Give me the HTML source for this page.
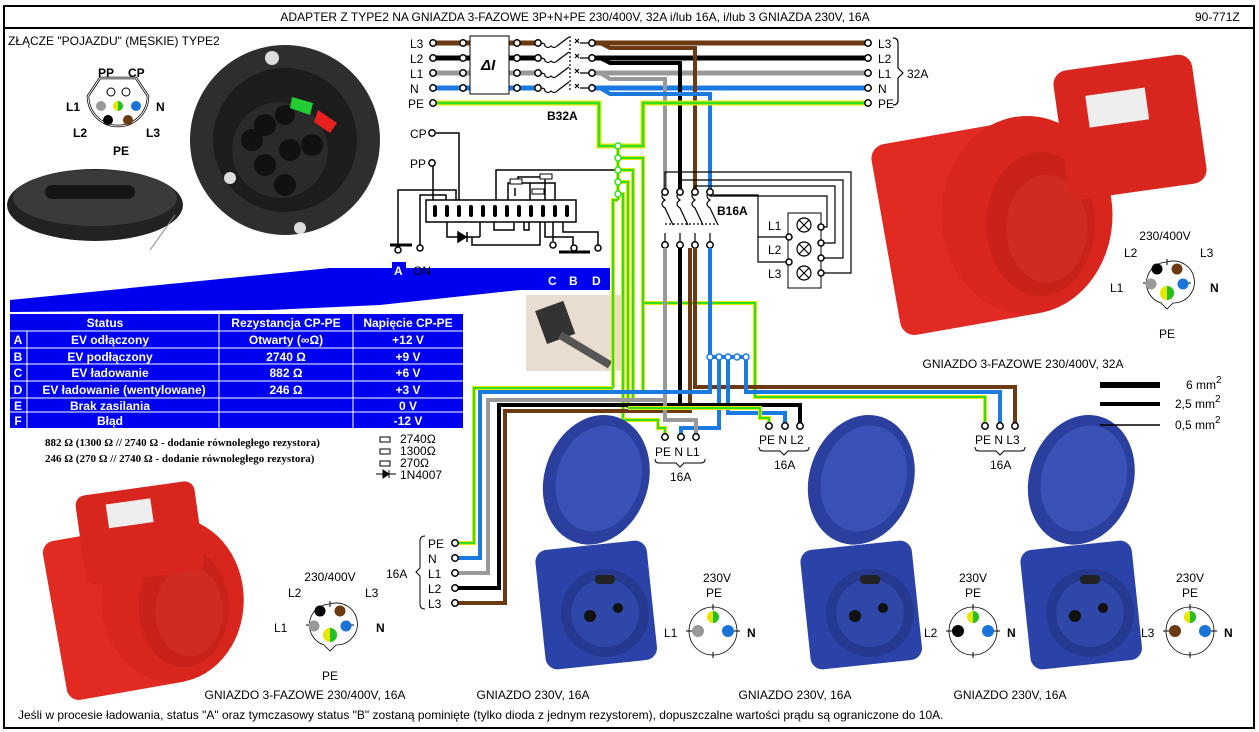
<!DOCTYPE html>
<html><head><meta charset="utf-8"><style>
html,body{margin:0;padding:0;background:#fff}
svg{display:block}
text{font-family:"Liberation Sans",sans-serif;font-size:12px;fill:#000}
.b{font-weight:bold}
.w{fill:#fff;font-weight:bold}
</style></head><body>
<svg width="1259" height="732" viewBox="0 0 1259 732" xmlns="http://www.w3.org/2000/svg">
<defs>
<g id="ph3">
 <path d="M0,-21 A21,21 0 1,1 6,20 L0,26 L-6,20 A21,21 0 0,1 0,-21Z" fill="#fff" stroke="#000" stroke-width="0.8"/>
 <line x1="0" y1="-24" x2="0" y2="-18" stroke="#000"/><line x1="-24" y1="0" x2="-18" y2="0" stroke="#000"/><line x1="24" y1="0" x2="18" y2="0" stroke="#000"/>
 <circle cx="-10" cy="-14" r="5.5" fill="#000"/><circle cx="10" cy="-14" r="5.5" fill="#6b3a12"/>
 <circle cx="-16" cy="1" r="5.5" fill="#999"/><circle cx="16" cy="1" r="5.5" fill="#1a73d8"/>
 <circle cx="0" cy="10" r="7" fill="#e6e600"/><path d="M0,3 A7,7 0 0,1 0,17Z" fill="#22c022"/>
</g>
<g id="ph1">
 <circle r="24" fill="#fff" stroke="#000" stroke-width="0.8"/>
 <line x1="0" y1="-27" x2="0" y2="-21" stroke="#000"/><line x1="0" y1="27" x2="0" y2="21" stroke="#000"/>
 <line x1="-27" y1="0" x2="-21" y2="0" stroke="#000"/><line x1="27" y1="0" x2="21" y2="0" stroke="#000"/>
 <circle cx="0" cy="-14" r="6" fill="#e6e600"/><path d="M0,-20 A6,6 0 0,1 0,-8Z" fill="#22c022"/>
 <circle cx="15" cy="0" r="6" fill="#1a73d8"/>
</g>
<g id="blue">
 <ellipse cx="5" cy="-5" rx="52" ry="66" transform="rotate(18)" fill="#2a3f9e"/>
 <ellipse cx="7" cy="-7" rx="42" ry="54" transform="rotate(18)" fill="#3a52b8"/>
 <rect x="-50" y="62" width="112" height="120" rx="12" fill="#2b43a8" transform="rotate(-6 6 120)"/>
 <circle cx="15" cy="130" r="44" fill="#24398f"/>
 <circle cx="15" cy="130" r="34" fill="#2e47a8"/>
 <circle cx="0" cy="133" r="6" fill="#111"/><circle cx="28" cy="125" r="5" fill="#111"/>
 <rect x="5" y="92" width="20" height="9" rx="4" fill="#222"/>
</g>
<g id="red">
 <rect x="-130" y="-100" width="170" height="215" rx="16" fill="#e02a22" transform="rotate(-10)"/>
 <ellipse cx="30" cy="0" rx="95" ry="110" fill="#d8261e"/>
 <ellipse cx="45" cy="10" rx="60" ry="80" fill="#c8221a"/>
 <ellipse cx="52" cy="15" rx="45" ry="60" fill="#d02b22"/>
</g>
</defs>
<rect x="0" y="0" width="1259" height="732" fill="#fff"/>
<rect x="4" y="6" width="1250" height="722" fill="none" stroke="#000" stroke-width="2"/>
<line x1="4" y1="28" x2="1254" y2="28" stroke="#000" stroke-width="2"/>
<text x="575" y="21" text-anchor="middle">ADAPTER Z TYPE2 NA GNIAZDA 3-FAZOWE 3P+N+PE 230/400V, 32A i/lub 16A, i/lub 3 GNIAZDA 230V, 16A</text>
<text x="1195" y="21">90-771Z</text>
<text x="8" y="45">ZŁĄCZE "POJAZDU" (MĘSKIE) TYPE2</text>

<path d="M100,78 L136,78 L148,96 A27,27 0 1,1 88,96Z" fill="none" stroke="#000" stroke-width="2.5"/>
<path d="M100,78 L136,78 L148,96 A27,27 0 1,1 88,96Z" fill="none" stroke="#fff" stroke-width="1"/>
<circle cx="111" cy="92" r="4" fill="#fff" stroke="#000"/><circle cx="126" cy="92" r="4" fill="#fff" stroke="#000"/>
<circle cx="101" cy="106" r="5" fill="#999"/><circle cx="118" cy="106" r="5" fill="#e6e600"/><path d="M118,101 A5,5 0 0,1 118,111Z" fill="#22c022"/><circle cx="136" cy="106" r="5" fill="#1a73d8"/>
<circle cx="108" cy="120" r="5" fill="#000"/><circle cx="128" cy="120" r="5" fill="#6b3a12"/>
<text x="98" y="77" class="b">PP</text><text x="128" y="77" class="b">CP</text>
<text x="66" y="111" class="b">L1</text><text x="156" y="111" class="b">N</text>
<text x="73" y="137" class="b">L2</text><text x="146" y="137" class="b">L3</text><text x="113" y="155" class="b">PE</text>

<circle cx="285" cy="140" r="95" fill="#2e2e2e"/>
<circle cx="285" cy="140" r="72" fill="#1c1c1c"/>
<circle cx="280" cy="150" r="48" fill="#2a2a2a"/>
<circle cx="252" cy="140" r="11" fill="#111"/><circle cx="265" cy="125" r="11" fill="#111"/><circle cx="285" cy="115" r="10" fill="#111"/>
<circle cx="290" cy="150" r="11" fill="#111"/><circle cx="312" cy="145" r="11" fill="#111"/><circle cx="265" cy="165" r="11" fill="#111"/><circle cx="285" cy="185" r="11" fill="#111"/>
<path d="M292,97 L313,103 L310,115 L290,108Z" fill="#22cc33"/><path d="M318,110 L337,123 L330,133 L314,122Z" fill="#e82020"/>
<circle cx="272" cy="58" r="7" fill="#ddd"/><circle cx="230" cy="178" r="6" fill="#ddd"/><circle cx="300" cy="228" r="6" fill="#ddd"/>
<ellipse cx="95" cy="205" rx="88" ry="36" fill="#222"/>
<ellipse cx="95" cy="198" rx="82" ry="28" fill="#3a3a3a"/>
<rect x="45" y="185" width="90" height="14" rx="7" fill="#151515"/>
<line x1="175" y1="215" x2="150" y2="250" stroke="#888"/>

<g stroke-width="5" fill="none">
<line x1="433" y1="43" x2="470" y2="43" stroke="#6b3a12"/><line x1="509" y1="43" x2="538" y2="43" stroke="#6b3a12"/>
<line x1="433" y1="58" x2="470" y2="58" stroke="#000"/><line x1="509" y1="58" x2="538" y2="58" stroke="#000"/>
<line x1="433" y1="73" x2="470" y2="73" stroke="#999"/><line x1="509" y1="73" x2="538" y2="73" stroke="#999"/>
<line x1="433" y1="88" x2="470" y2="88" stroke="#1a7ae0"/><line x1="509" y1="88" x2="538" y2="88" stroke="#1a7ae0"/>
<path d="M592,43 H868" stroke="#6b3a12"/><path d="M592,58 H868" stroke="#000"/><path d="M592,73 H868" stroke="#999"/><path d="M592,88 H868" stroke="#1a7ae0"/>
<path d="M600,43 L610,48 H695 V192" stroke="#6b3a12" stroke-width="4"/>
<path d="M600,58 L610,63 H680 V192" stroke="#000" stroke-width="4"/>
<path d="M600,73 L610,79 H665 V192" stroke="#999" stroke-width="4"/>
<path d="M600,88 L610,94 H710 V192" stroke="#1a7ae0" stroke-width="4"/>
<path d="M433,103 H599 V146 H643 V103 H868" stroke="#e6e600" stroke-width="5"/>
<path d="M433,103 H599 V146 H643 V103 H868" stroke="#33dd22" stroke-width="2.5"/>
</g>
<rect x="470" y="36" width="39" height="58" fill="#fff" stroke="#000"/>
<text x="481" y="70" style="font-size:15px;font-style:italic" class="b">Δ<tspan font-style="italic">I</tspan></text>
<g fill="#fff" stroke="#000" stroke-width="1.5">
<circle cx="433" cy="43" r="3.2"/><circle cx="433" cy="58" r="3.2"/><circle cx="433" cy="73" r="3.2"/><circle cx="433" cy="88" r="3.2"/><circle cx="433" cy="103" r="3.2"/>
<circle cx="463" cy="43" r="3.2"/><circle cx="463" cy="58" r="3.2"/><circle cx="463" cy="73" r="3.2"/><circle cx="463" cy="88" r="3.2"/>
<circle cx="517" cy="43" r="3.2"/><circle cx="517" cy="58" r="3.2"/><circle cx="517" cy="73" r="3.2"/><circle cx="517" cy="88" r="3.2"/>
<circle cx="538" cy="43" r="3.2"/><circle cx="538" cy="58" r="3.2"/><circle cx="538" cy="73" r="3.2"/><circle cx="538" cy="88" r="3.2"/>
<circle cx="592" cy="43" r="3.2"/><circle cx="592" cy="58" r="3.2"/><circle cx="592" cy="73" r="3.2"/><circle cx="592" cy="88" r="3.2"/>
<circle cx="868" cy="43" r="3.2"/><circle cx="868" cy="58" r="3.2"/><circle cx="868" cy="73" r="3.2"/><circle cx="868" cy="88" r="3.2"/><circle cx="868" cy="103" r="3.2"/>
</g>
<g stroke="#000" fill="none" stroke-width="1.2">
<path d="M541,43 q4,0 4,3 q3,3 6,0 q3,3 6,0 l12,-9 M575,43 l4,-4 m-4,0 l4,4 M580,43 H589"/>
<path d="M541,58 q4,0 4,3 q3,3 6,0 q3,3 6,0 l12,-9 M575,58 l4,-4 m-4,0 l4,4 M580,58 H589"/>
<path d="M541,73 q4,0 4,3 q3,3 6,0 q3,3 6,0 l12,-9 M575,73 l4,-4 m-4,0 l4,4 M580,73 H589"/>
<path d="M541,88 q4,0 4,3 q3,3 6,0 q3,3 6,0 l12,-9 M575,88 l4,-4 m-4,0 l4,4 M580,88 H589"/>
<line x1="570" y1="36" x2="570" y2="92" stroke-dasharray="2,2"/>
<path d="M893,38 q5,0 5,5 v25 l5,5 l-5,5 v22 q0,5 -5,5"/>
</g>
<text x="410" y="48">L3</text><text x="410" y="63">L2</text><text x="410" y="78">L1</text><text x="410" y="93">N</text><text x="408" y="108">PE</text>
<text x="878" y="48">L3</text><text x="878" y="63">L2</text><text x="878" y="78">L1</text><text x="878" y="93">N</text><text x="878" y="108">PE</text>
<text x="907" y="78">32A</text><text x="547" y="120" class="b">B32A</text>

<g stroke="#000" fill="none" stroke-width="1.5">
<path d="M436,133 H459 V200"/><path d="M433,166 V200"/>
<path d="M398,245 V190 H456 V200"/><path d="M420,245 V195 H446 V200"/>
<path d="M496,200 V170 H618"/>
<rect x="426" y="200" width="150" height="22" fill="#fff"/>
<path d="M447,222 V237 H473 M480,237 H480 V222 M480,237 H470"/>
<path d="M472,237 V245 H540 V222"/><path d="M494,222 V230 H514 V222 M524,222 V230 H529 V222"/>
<path d="M545,222 V237 H573 V245"/><path d="M553,222 V241 M563,222 V232 H598 V245"/>
<path d="M390,245 H412" stroke-width="3"/><path d="M559,252 H590" stroke-width="3"/>
<path d="M458,232 l8,5 l-8,5Z" fill="#000"/><line x1="467" y1="232" x2="467" y2="242"/>
<path d="M508,200 V183 H530 V200 M518,183 V177 H545 V200 M530,183 H555 V200 M515,196 V188"/>
</g>
<g fill="#fff" stroke="#000" stroke-width="1.5">
<circle cx="432" cy="133" r="3.2"/><circle cx="432" cy="163" r="3.2"/>
<circle cx="398" cy="250" r="3"/><circle cx="420" cy="248" r="3"/>
<circle cx="553" cy="245" r="3"/><circle cx="574" cy="248" r="3"/><circle cx="598" cy="248" r="3"/>
</g>
<text x="410" y="138">CP</text><text x="410" y="168">PP</text>
<g fill="#000">
<rect x="433" y="205" width="4" height="12" rx="2"/><rect x="445" y="205" width="4" height="12" rx="2"/><rect x="457" y="205" width="4" height="12" rx="2"/><rect x="469" y="205" width="4" height="12" rx="2"/><rect x="481" y="205" width="4" height="12" rx="2"/><rect x="493" y="205" width="4" height="12" rx="2"/><rect x="505" y="205" width="4" height="12" rx="2"/><rect x="517" y="205" width="4" height="12" rx="2"/><rect x="529" y="205" width="4" height="12" rx="2"/><rect x="541" y="205" width="4" height="12" rx="2"/><rect x="553" y="205" width="4" height="12" rx="2"/><rect x="565" y="205" width="4" height="12" rx="2"/>
</g>
<g fill="#fff" stroke="#000"><rect x="510" y="179" width="12" height="5"/><rect x="540" y="174" width="12" height="5"/><rect x="532" y="189" width="12" height="5"/></g>

<path d="M10,312 L10,300 L330,268 L610,268 L610,290 L520,290 L380,305 L270,310 Z" fill="#0000f0"/>
<rect x="392" y="262" width="14" height="16" fill="#0000f0"/>
<text x="394" y="275" class="w">A</text><text x="413" y="275">ON</text>
<text x="548" y="285" class="w">C</text><text x="569" y="285" class="w">B</text><text x="592" y="285" class="w">D</text>

<rect x="526" y="295" width="96" height="76" fill="#e8ddd0"/>
<rect x="540" y="305" width="30" height="35" fill="#333" transform="rotate(-20 555 322)"/>
<path d="M560,335 L610,365" stroke="#555" stroke-width="8"/>

<rect x="10" y="314" width="453" height="114" fill="#0000f0"/>
<g stroke="#fff" stroke-width="1">
<line x1="10" y1="331" x2="463" y2="331"/><line x1="10" y1="348" x2="463" y2="348"/><line x1="10" y1="364" x2="463" y2="364"/><line x1="10" y1="381" x2="463" y2="381"/><line x1="10" y1="398" x2="463" y2="398"/><line x1="10" y1="412" x2="463" y2="412"/>
<line x1="27" y1="331" x2="27" y2="428"/><line x1="219" y1="314" x2="219" y2="428"/><line x1="353" y1="314" x2="353" y2="428"/>
</g>
<g text-anchor="middle">
<text x="105" y="327" class="w">Status</text><text x="286" y="327" class="w">Rezystancja CP-PE</text><text x="408" y="327" class="w">Napięcie CP-PE</text>
<text x="18" y="344" class="w">A</text><text x="110" y="344" class="w">EV odłączony</text><text x="286" y="344" class="w">Otwarty (∞Ω)</text><text x="408" y="344" class="w">+12 V</text>
<text x="18" y="361" class="w">B</text><text x="110" y="361" class="w">EV podłączony</text><text x="286" y="361" class="w">2740 Ω</text><text x="408" y="361" class="w">+9 V</text>
<text x="18" y="377" class="w">C</text><text x="110" y="377" class="w">EV ładowanie</text><text x="286" y="377" class="w">882 Ω</text><text x="408" y="377" class="w">+6 V</text>
<text x="18" y="394" class="w">D</text><text x="124" y="394" class="w">EV ładowanie (wentylowane)</text><text x="286" y="394" class="w">246 Ω</text><text x="408" y="394" class="w">+3 V</text>
<text x="18" y="410" class="w">E</text><text x="110" y="410" class="w">Brak zasilania</text><text x="408" y="410" class="w">0 V</text>
<text x="18" y="425" class="w">F</text><text x="110" y="425" class="w">Błąd</text><text x="408" y="425" class="w">-12 V</text>
</g>
<text x="45" y="446" style="font-family:'Liberation Serif',serif;font-size:11px;font-weight:bold">882 Ω (1300 Ω // 2740 Ω - dodanie równoległego rezystora)</text>
<text x="45" y="462" style="font-family:'Liberation Serif',serif;font-size:11px;font-weight:bold">246 Ω (270 Ω // 2740 Ω - dodanie równoległego rezystora)</text>
<g stroke="#000" fill="#fff"><rect x="380" y="437" width="10" height="5"/><rect x="380" y="449" width="10" height="5"/><rect x="380" y="461" width="10" height="5"/></g>
<path d="M376,474 H396 M383,470 l6,4 l-6,4Z M389,470 v8" stroke="#000" fill="#000"/>
<text x="400" y="443">2740Ω</text><text x="400" y="455">1300Ω</text><text x="400" y="467">270Ω</text><text x="400" y="479">1N4007</text>

<g fill="none">
<path d="M618,146 V200 M618,158 H643 V392 M618,170 H633 V400 M618,182 H628 V408 M618,194 H623 V420 M618,200 H613 V388 M643,303 H755 V397 H985 V426" stroke="#e6e600" stroke-width="4"/>
<path d="M618,146 V200 M618,158 H643 V392 M618,170 H633 V400 M618,182 H628 V408 M618,194 H623 V420 M618,200 H613 V388 M643,303 H755 V397 H985 V426" stroke="#33dd22" stroke-width="2"/>
</g>
<g fill="#fff" stroke="#33dd22" stroke-width="1.5"><circle cx="618" cy="146" r="3"/><circle cx="618" cy="158" r="3"/><circle cx="618" cy="170" r="3"/><circle cx="618" cy="182" r="3"/><circle cx="618" cy="194" r="3"/></g>

<g stroke="#000" fill="none" stroke-width="1.2">
<path d="M665,192 q-6,4 0,8 q-6,4 0,8 l8,17 M665,233 V242"/>
<path d="M680,192 q-6,4 0,8 q-6,4 0,8 l8,17 M680,233 V242"/>
<path d="M695,192 q-6,4 0,8 q-6,4 0,8 l8,17 M695,233 V242"/>
<path d="M710,192 q-6,4 0,8 q-6,4 0,8 l8,17 M710,233 V242"/>
<line x1="665" y1="224" x2="715" y2="224" stroke-dasharray="2,2"/>
<path d="M665,192 V172 H851 V273 H821"/><path d="M680,192 V180 H843 V258 H821"/><path d="M695,192 V186 H835 V243 H821"/><path d="M710,192 V196 H827 V227 H821"/>
<path d="M713,195 H758 V262 H789 M758,237 H789"/>
<rect x="788" y="213" width="33" height="75" stroke-width="1"/>
</g>
<g fill="#fff" stroke="#000" stroke-width="1.5">
<circle cx="665" cy="192" r="3.2"/><circle cx="680" cy="192" r="3.2"/><circle cx="695" cy="192" r="3.2"/><circle cx="710" cy="192" r="3.2"/>
<circle cx="665" cy="245" r="3.2"/><circle cx="680" cy="245" r="3.2"/><circle cx="695" cy="245" r="3.2"/><circle cx="710" cy="245" r="3.2"/>
<circle cx="789" cy="237" r="3"/><circle cx="789" cy="262" r="3"/><circle cx="821" cy="227" r="3"/><circle cx="821" cy="243" r="3"/><circle cx="821" cy="258" r="3"/><circle cx="821" cy="273" r="3"/>
</g>
<g stroke="#000" fill="#fff" stroke-width="1.2">
<circle cx="804" cy="225" r="7"/><path d="M799,220 l10,10 m0,-10 l-10,10"/>
<circle cx="804" cy="249" r="7"/><path d="M799,244 l10,10 m0,-10 l-10,10"/>
<circle cx="804" cy="273" r="7"/><path d="M799,268 l10,10 m0,-10 l-10,10"/>
</g>
<text x="717" y="215" class="b">B16A</text>
<text x="768" y="230">L1</text><text x="768" y="254">L2</text><text x="768" y="278">L3</text>

<g fill="none" stroke-width="4">
<path d="M665,248 V400 H488 V573 H455" stroke="#999"/>
<path d="M680,248 V405 H499 V588 H455" stroke="#000"/>
<path d="M695,248 V387 H1015 V426" stroke="#6b3a12"/>
<path d="M690,248 V411 H505 V603 H455" stroke="#6b3a12"/>
<path d="M710,248 V357 H746 M710,357 V392 H480 V558 H455" stroke="#1a7ae0"/>
<path d="M719,357 V428 H681 V435" stroke="#1a7ae0"/>
<path d="M728,357 V413 H785 V426" stroke="#1a7ae0"/>
<path d="M746,357 V392 H1000 V426" stroke="#1a7ae0"/>
<path d="M670,405 H800 V426" stroke="#000"/>
<path d="M665,400 V420 H696 V435" stroke="#999"/>
</g>
<g fill="none">
<path d="M613,388 H474 V543 H455" stroke="#e6e600" stroke-width="4"/><path d="M613,388 H474 V543 H455" stroke="#33dd22" stroke-width="2"/>
<path d="M623,420 H658 V428 H665 V435 M628,408 H760 V418 H769 V426" stroke="#e6e600" stroke-width="4"/>
<path d="M623,420 H658 V428 H665 V435 M628,408 H760 V418 H769 V426" stroke="#33dd22" stroke-width="2"/>
</g>
<g fill="#fff" stroke="#1a7ae0" stroke-width="1.5"><circle cx="710" cy="357" r="3"/><circle cx="719" cy="357" r="3"/><circle cx="728" cy="357" r="3"/><circle cx="737" cy="357" r="3"/><circle cx="746" cy="357" r="3"/></g>
<g fill="#fff" stroke="#000" stroke-width="1.5">
<circle cx="665" cy="437" r="3.2"/><circle cx="681" cy="437" r="3.2"/><circle cx="696" cy="437" r="3.2"/>
<circle cx="769" cy="426" r="3.2"/><circle cx="785" cy="426" r="3.2"/><circle cx="800" cy="426" r="3.2"/>
<circle cx="985" cy="426" r="3.2"/><circle cx="1000" cy="426" r="3.2"/><circle cx="1015" cy="426" r="3.2"/>
<circle cx="455" cy="543" r="3.2"/><circle cx="455" cy="558" r="3.2"/><circle cx="455" cy="573" r="3.2"/><circle cx="455" cy="588" r="3.2"/><circle cx="455" cy="603" r="3.2"/>
</g>
<text x="655" y="456">PE N L1</text><text x="759" y="444">PE N L2</text><text x="975" y="444">PE N L3</text>
<g stroke="#000" fill="none">
<path d="M655,459 q0,4 4,4 h17 l4,4 l4,-4 h17 q4,0 4,-4"/>
<path d="M759,447 q0,4 4,4 h17 l4,4 l4,-4 h17 q4,0 4,-4"/>
<path d="M975,447 q0,4 4,4 h17 l4,4 l4,-4 h17 q4,0 4,-4"/>
<path d="M425,536 q-5,0 -5,5 v27 l-4,4 l4,4 v28 q0,5 5,5"/>
</g>
<text x="670" y="481">16A</text><text x="774" y="469">16A</text><text x="990" y="469">16A</text>
<text x="428" y="548">PE</text><text x="428" y="563">N</text><text x="428" y="578">L1</text><text x="428" y="593">L2</text><text x="428" y="608">L3</text>
<text x="386" y="578">16A</text>

<!-- red sockets -->
<g transform="translate(1000,215) scale(0.9)"><use href="#red"/></g>
<rect x="1060" y="62" width="140" height="130" rx="14" fill="#d8261e" transform="rotate(-8 1130 127)"/>
<rect x="1090" y="90" width="60" height="32" fill="#eee" transform="rotate(-8 1130 127)"/>
<g transform="translate(150,600) scale(0.75)"><use href="#red"/></g>
<rect x="80" y="488" width="120" height="90" rx="10" fill="#d8261e" transform="rotate(-8 140 533)"/>
<rect x="110" y="500" width="45" height="24" fill="#eee" transform="rotate(-8 140 533)"/>

<g transform="translate(590,483)"><use href="#blue"/></g>
<g transform="translate(855,483)"><use href="#blue"/></g>
<g transform="translate(1075,483)"><use href="#blue"/></g>

<g transform="translate(1167,283)"><use href="#ph3"/></g>
<text x="1165" y="240" text-anchor="middle">230/400V</text><text x="1124" y="257">L2</text><text x="1200" y="257">L3</text><text x="1110" y="292">L1</text><text x="1210" y="292" class="b">N</text><text x="1167" y="338" text-anchor="middle">PE</text>
<g transform="translate(330,625)"><use href="#ph3"/></g>
<text x="330" y="581" text-anchor="middle">230/400V</text><text x="288" y="597">L2</text><text x="365" y="597">L3</text><text x="274" y="632">L1</text><text x="376" y="632" class="b">N</text><text x="330" y="680" text-anchor="middle">PE</text>

<g transform="translate(713,631)"><use href="#ph1"/><circle cx="-15" cy="0" r="6" fill="#999"/></g>
<text x="717" y="582" text-anchor="middle">230V</text><text x="714" y="597" text-anchor="middle">PE</text><text x="664" y="637">L1</text><text x="747" y="637" class="b">N</text>
<g transform="translate(973,631)"><use href="#ph1"/><circle cx="-15" cy="0" r="6" fill="#000"/></g>
<text x="973" y="582" text-anchor="middle">230V</text><text x="973" y="597" text-anchor="middle">PE</text><text x="924" y="637">L2</text><text x="1007" y="637" class="b">N</text>
<g transform="translate(1190,631)"><use href="#ph1"/><circle cx="-15" cy="0" r="6" fill="#6b3a12"/></g>
<text x="1190" y="582" text-anchor="middle">230V</text><text x="1190" y="597" text-anchor="middle">PE</text><text x="1141" y="637">L3</text><text x="1224" y="637" class="b">N</text>

<line x1="1100" y1="385" x2="1160" y2="385" stroke="#000" stroke-width="6"/>
<line x1="1100" y1="404" x2="1160" y2="404" stroke="#000" stroke-width="4"/>
<line x1="1100" y1="425" x2="1160" y2="425" stroke="#000" stroke-width="1.5"/>
<text x="1186" y="389">6 mm<tspan dy="-6" font-size="10">2</tspan></text>
<text x="1175" y="408">2,5 mm<tspan dy="-6" font-size="10">2</tspan></text>
<text x="1175" y="429">0,5 mm<tspan dy="-6" font-size="10">2</tspan></text>

<text x="1023" y="368" text-anchor="middle">GNIAZDO 3-FAZOWE 230/400V, 32A</text>
<text x="305" y="699" text-anchor="middle">GNIAZDO 3-FAZOWE 230/400V, 16A</text>
<text x="533" y="699" text-anchor="middle">GNIAZDO 230V, 16A</text>
<text x="795" y="699" text-anchor="middle">GNIAZDO 230V, 16A</text>
<text x="1010" y="699" text-anchor="middle">GNIAZDO 230V, 16A</text>
<text x="18" y="719">Jeśli w procesie ładowania, status "A" oraz tymczasowy status "B" zostaną pominięte (tylko dioda z jednym rezystorem), dopuszczalne wartości prądu są ograniczone do 10A.</text>
</svg>
</body></html>
